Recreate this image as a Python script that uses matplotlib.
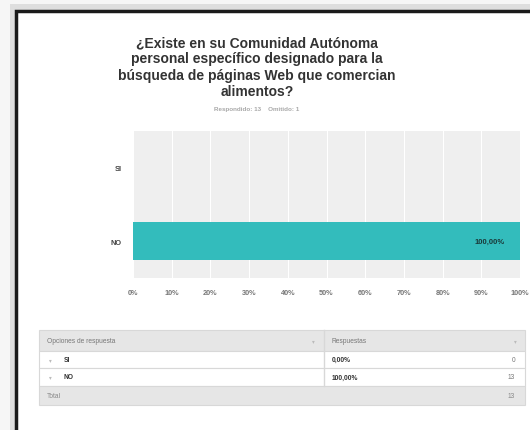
import matplotlib.pyplot as plt
from matplotlib.patches import Rectangle

# data
categories = ['SI', 'NO']
percentages = [0.0, 100.0]
counts = [0, 13]
answered = 13
skipped = 1
xticks = [0, 10, 20, 30, 40, 50, 60, 70, 80, 90, 100]
title = ('¿Existe en su Comunidad Autónoma\npersonal específico designado para la\n'
         'búsqueda de páginas Web que comercian\nalimentos?')

plt.rcParams['font.family'] = ['Liberation Sans', 'DejaVu Sans']

W, H = 530, 431
fig = plt.figure(figsize=(W / 100, H / 100), dpi=100)
fig.patch.set_facecolor('#f6f6f6')


def px(x, y):
    return x / W, 1 - y / H


# framed screenshot with shadow
fig.patches.append(Rectangle(px(10, 440), 540 / W, 435 / H, transform=fig.transFigure,
                             facecolor='#c8c8c8', edgecolor='none', alpha=0.5, zorder=0))
fig.patches.append(Rectangle(px(16, 440), 540 / W, 428 / H, transform=fig.transFigure,
                             facecolor='white', edgecolor='#1a1a1a', linewidth=2.5, zorder=1))

# title
fig.text(257 / W, 1 - 36 / H, title, ha='center', va='top', fontsize=10,
         fontweight='bold', color='#333333', linespacing=1.22)
fig.text(257 / W, 1 - 110 / H, f'Respondido: {answered}    Omitido: {skipped}',
         ha='center', va='center', fontsize=4.5, fontweight='bold', color='#a8a8a8')

# bar chart
ax = fig.add_axes([133 / W, 1 - 279 / H, 387 / W, 147 / H])
ax.set_zorder(5)
ax.set_facecolor('#efefef')
ypos = list(range(len(categories)))
ax.barh(ypos, percentages, height=0.51, color='#33bcbc', zorder=3)
ax.set_xlim(0, 100)
ax.set_ylim(1.5, -0.49)
ax.set_xticks(xticks)
ax.set_xticklabels([f'{t}%' for t in xticks], fontsize=5.3, fontweight='bold', color='#777777')
ax.set_yticks(ypos)
ax.set_yticklabels(categories, fontsize=5.3, fontweight='bold', color='#444444')
ax.tick_params(length=0, pad=8)
ax.grid(axis='x', color='white', linewidth=0.8, zorder=1)
for s in ax.spines.values():
    s.set_visible(False)
for y, p in zip(ypos, percentages):
    if p > 0:
        ax.text(p - 4, y, f'{p:.2f}%'.replace('.', ','), ha='right', va='center',
                fontsize=5.5, fontweight='bold', color='#1a3a3a', zorder=4)

# response table
tl, tr, tc = 39, 525, 324
rows_y = [(331, 352), (352, 369), (369, 387), (387, 406)]
line_c = '#d8d8d8'
for (y0, y1), fc in zip(rows_y, ['#e6e6e6', 'white', 'white', '#e6e6e6']):
    fig.patches.append(Rectangle(px(tl, y1), (tr - tl) / W, (y1 - y0) / H,
                                 transform=fig.transFigure, facecolor=fc,
                                 edgecolor=line_c, linewidth=0.8, zorder=2))
fig.lines.append(plt.Line2D([tc / W, tc / W], [1 - 331 / H, 1 - 387 / H],
                            transform=fig.transFigure, color=line_c, linewidth=1, zorder=3))

ty = lambda a, b: 1 - (a + b) / 2 / H
fig.text(47 / W, ty(*rows_y[0]), 'Opciones de respuesta', fontsize=4.8, color='#777777', va='center')
fig.text(332 / W, ty(*rows_y[0]), 'Respuestas', fontsize=4.8, color='#777777', va='center')
fig.text(313 / W, ty(*rows_y[0]), '▾', fontsize=4, color='#bbbbbb', va='center', ha='center')
fig.text(515 / W, ty(*rows_y[0]), '▾', fontsize=4, color='#bbbbbb', va='center', ha='center')
for (y0, y1), cat, p, c in zip(rows_y[1:3], categories, percentages, counts):
    yy = ty(y0, y1)
    fig.text(50 / W, yy, '▾', fontsize=4, color='#bbbbbb', va='center', ha='center')
    fig.text(64 / W, yy, cat, fontsize=4.8, fontweight='bold', color='#333333', va='center')
    fig.text(332 / W, yy, f'{p:.2f}%'.replace('.', ','), fontsize=4.8, fontweight='bold',
             color='#333333', va='center')
    fig.text(515 / W, yy, str(c), fontsize=4.8, color='#777777', va='center', ha='right')
fig.text(47 / W, ty(*rows_y[3]), 'Total', fontsize=4.8, color='#888888', va='center')
fig.text(515 / W, ty(*rows_y[3]), str(sum(counts)), fontsize=4.8, color='#888888',
         va='center', ha='right')

fig.savefig('out.png', dpi=100, facecolor=fig.get_facecolor())
